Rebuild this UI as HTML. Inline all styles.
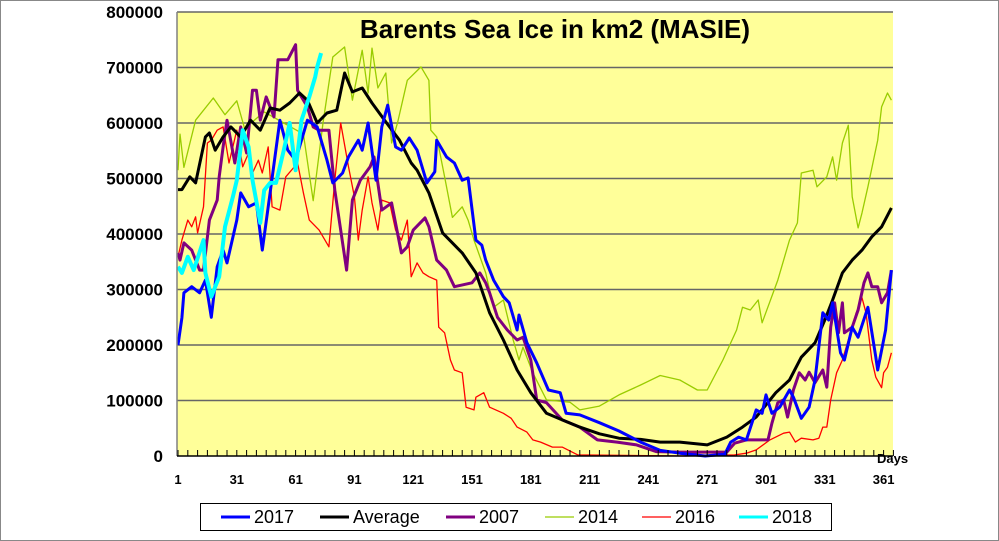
<!DOCTYPE html>
<html><head><meta charset="utf-8">
<style>
html,body{margin:0;padding:0;background:#fff;}
svg{display:block;font-family:"Liberation Sans",Arial,sans-serif;}
</style></head>
<body>
<svg id="chart" width="999" height="541" viewBox="0 0 999 541">
<rect x="0.5" y="0.5" width="998" height="540" fill="#fff" stroke="#888"/>
<rect x="177" y="12" width="716" height="444" fill="#ffff99"/>
<g id="grid"></g>
<g id="series"></g>
<line x1="177" y1="12" x2="177" y2="456" stroke="#808080" stroke-width="1.5"/>
<line x1="177" y1="456" x2="893" y2="456" stroke="#000" stroke-width="1.5"/>
<g id="axes"></g>
<text x="555" y="38" text-anchor="middle" font-size="26" font-weight="bold">Barents Sea Ice in km2 (MASIE)</text>
<text x="877" y="463" font-size="13" font-weight="bold">Days</text>
<g id="legend">
<rect x="200.5" y="503.5" width="631" height="27" fill="#fff" stroke="#000"/>
</g>
</svg>
<script>
const yTicks=[0,100000,200000,300000,400000,500000,600000,700000,800000];
const xTicks=[1,31,61,91,121,151,181,211,241,271,301,331,361];
const seriesNames=["2014","2016","2007","Average","2017","2018"];
const legendOrder=["2017","Average","2007","2014","2016","2018"];
const days2014=[1,2,4,10,19,25,31,35,45,55,65,70,75,80,86,90,95,98,100,103,107,110,113,118,125,129,130,133,137,141,146,149,152,158,162,167,172,175,177,182,189,201,206,216,226,237,247,257,266,271,279,286,289,293,297,299,307,313,317,319,325,327,332,335,337,340,343,345,348,350,353,358,360,363,365];
const vals2014=[515,580,520,605,645,615,640,590,620,600,580,460,600,719,737,641,731,654,735,663,690,564,600,677,701,677,587,575,503,430,449,425,389,330,268,281,209,173,196,150,101,97,83,90,110,128,145,137,119,119,173,227,268,263,281,240,317,389,420,510,515,485,503,539,497,564,596,467,411,438,485,569,629,654,641];
const days2016=[1,3,6,8,10,11,14,16,18,21,24,27,31,34,37,39,42,44,47,49,53,56,62,65,68,73,78,81,84,88,91,93,95,98,100,103,105,109,112,115,118,120,123,126,129,133,134,137,140,142,146,148,152,153,157,160,167,171,174,179,182,186,192,197,205,260,285,291,296,303,310,313,316,319,325,328,330,332,334,337,340,343,347,350,352,355,357,360,361,363,365];
const vals2016=[359,389,425,413,431,402,449,564,569,587,593,528,587,521,546,510,533,510,557,449,443,503,528,474,425,407,377,497,600,521,467,389,443,503,456,407,461,456,407,389,425,323,348,330,323,317,232,222,173,155,150,88,83,106,114,88,77,68,52,43,29,25,16,16,2,0,2,5,11,29,41,43,25,32,29,32,52,52,101,150,173,209,258,285,258,173,142,123,150,160,186];
const days2007=[1,2,4,8,12,14,17,21,22,24,26,30,33,36,39,41,43,46,50,52,57,61,62,67,70,73,78,81,87,90,94,99,101,105,110,115,118,121,127,129,133,138,142,151,155,158,160,164,169,174,177,181,184,189,197,206,215,225,235,245,257,281,285,291,302,304,307,310,312,315,318,321,323,326,330,332,334,336,338,340,341,345,348,351,353,355,358,360,363,365];
const vals2007=[366,353,384,371,335,335,425,461,503,557,605,528,593,546,659,659,605,647,611,714,714,741,659,629,593,587,587,479,335,461,497,521,539,443,456,366,377,407,429,413,353,335,305,312,330,312,294,250,227,209,214,173,101,96,65,52,29,25,20,8,7,7,23,29,29,59,96,101,70,119,150,137,151,132,155,124,232,276,222,276,222,232,263,312,330,305,305,276,294,335];
const daysAvg=[1,3,7,10,15,17,20,24,28,33,38,43,48,53,58,63,67,72,77,82,86,90,95,100,107,114,120,123,129,136,146,153,160,167,174,181,189,197,206,216,226,237,247,257,271,281,289,296,306,313,319,326,331,335,340,345,350,355,360,365];
const valsAvg=[480,480,503,492,575,582,551,575,593,575,605,587,627,623,636,654,641,600,618,623,690,656,663,636,602,569,528,515,474,402,366,330,258,209,155,114,77,65,52,40,32,30,25,25,20,34,52,70,114,137,178,204,245,281,330,353,371,395,413,447];
const days2017=[1,3,4,8,12,15,18,21,24,26,31,33,37,41,44,48,53,57,61,67,72,77,80,85,88,93,95,98,102,105,108,112,115,119,123,128,132,133,138,142,146,149,153,156,158,162,167,170,174,175,179,184,190,196,199,206,216,226,237,247,257,270,280,283,287,291,296,299,301,304,308,313,315,319,323,326,330,333,335,339,341,345,348,353,357,358,362,365];
const vals2017=[200,249,294,305,294,317,250,341,371,348,425,474,449,456,371,474,605,551,533,605,593,533,492,510,539,569,551,600,497,593,632,557,551,573,551,492,512,569,539,528,497,501,389,380,353,317,287,276,227,254,204,168,119,114,77,74,60,45,25,10,5,0,3,25,34,29,83,77,110,77,88,119,106,68,88,137,258,245,276,186,173,232,214,268,178,155,227,335];
const days2018=[1,3,6,9,14,15,18,22,25,29,31,34,37,39,43,45,48,51,55,58,61,64,68,71,72,74];
const vals2018=[341,330,359,335,389,330,287,323,413,467,497,587,557,497,420,479,492,492,551,600,515,605,647,683,701,726];
const L=177,R=893,T=12,B=456;
const xScale=d=>L+1+(d-1)*1.96;
const yScale=v=>B-(v/800000)*(B-T);
const NS="http://www.w3.org/2000/svg";
function mk(tag,attrs,parent){const e=document.createElementNS(NS,tag);for(const k in attrs)e.setAttribute(k,attrs[k]);parent.appendChild(e);return e;}
const grid=document.getElementById('grid'),axes=document.getElementById('axes'),ser=document.getElementById('series'),leg=document.getElementById('legend');
yTicks.forEach(v=>{
  if(v>0){const g=mk('line',{x1:L,x2:R,y1:yScale(v),y2:yScale(v),stroke:'#666','stroke-width':1.5},grid);
  
  }
  const t=mk('text',{x:163,y:yScale(v)+6,'text-anchor':'end','font-size':17,'font-weight':'bold'},axes);
  t.textContent=v;
  
  
});
for(let d=1;d<=366;d+=5){
  const tk=mk('line',{x1:xScale(d),x2:xScale(d),y1:B,y2:B-6,stroke:'#000','stroke-width':1},axes);
  
  
}
xTicks.forEach(d=>{
  const t=mk('text',{x:xScale(d),y:484,'text-anchor':'middle','font-size':13,'font-weight':'bold'},axes);
  t.textContent=d;
  
  
});
const style={"2014":["#99cc00",1.3],"2016":["#ff0000",1.3],"2007":["#800080",3],"Average":["#000000",3],"2017":["#0000ff",3],"2018":["#00ffff",4]};
const data={"2014":[days2014,vals2014],"2016":[days2016,vals2016],"2007":[days2007,vals2007],"Average":[daysAvg,valsAvg],"2017":[days2017,vals2017],"2018":[days2018,vals2018]};
seriesNames.forEach(n=>{
  const [ds,vs]=data[n];
  const pts=ds.map((d,i)=>xScale(d).toFixed(1)+','+yScale(vs[i]*1000).toFixed(1)).join(' ');
  const p=mk('polyline',{points:pts,fill:'none',stroke:style[n][0],'stroke-width':style[n][1],'stroke-linejoin':'round'},ser);
  
  
});
const lx=[221,320,446,545,642,739];
legendOrder.forEach((n,i)=>{
  const x=lx[i];
  const l=mk('line',{x1:x,x2:x+29,y1:517,y2:517,stroke:style[n][0],'stroke-width':Math.min(style[n][1],3)},leg);
  
  
  const t=mk('text',{x:x+33,y:523,'font-size':18},leg);
  t.textContent=n;
  
  
});
</script>
</body></html>
